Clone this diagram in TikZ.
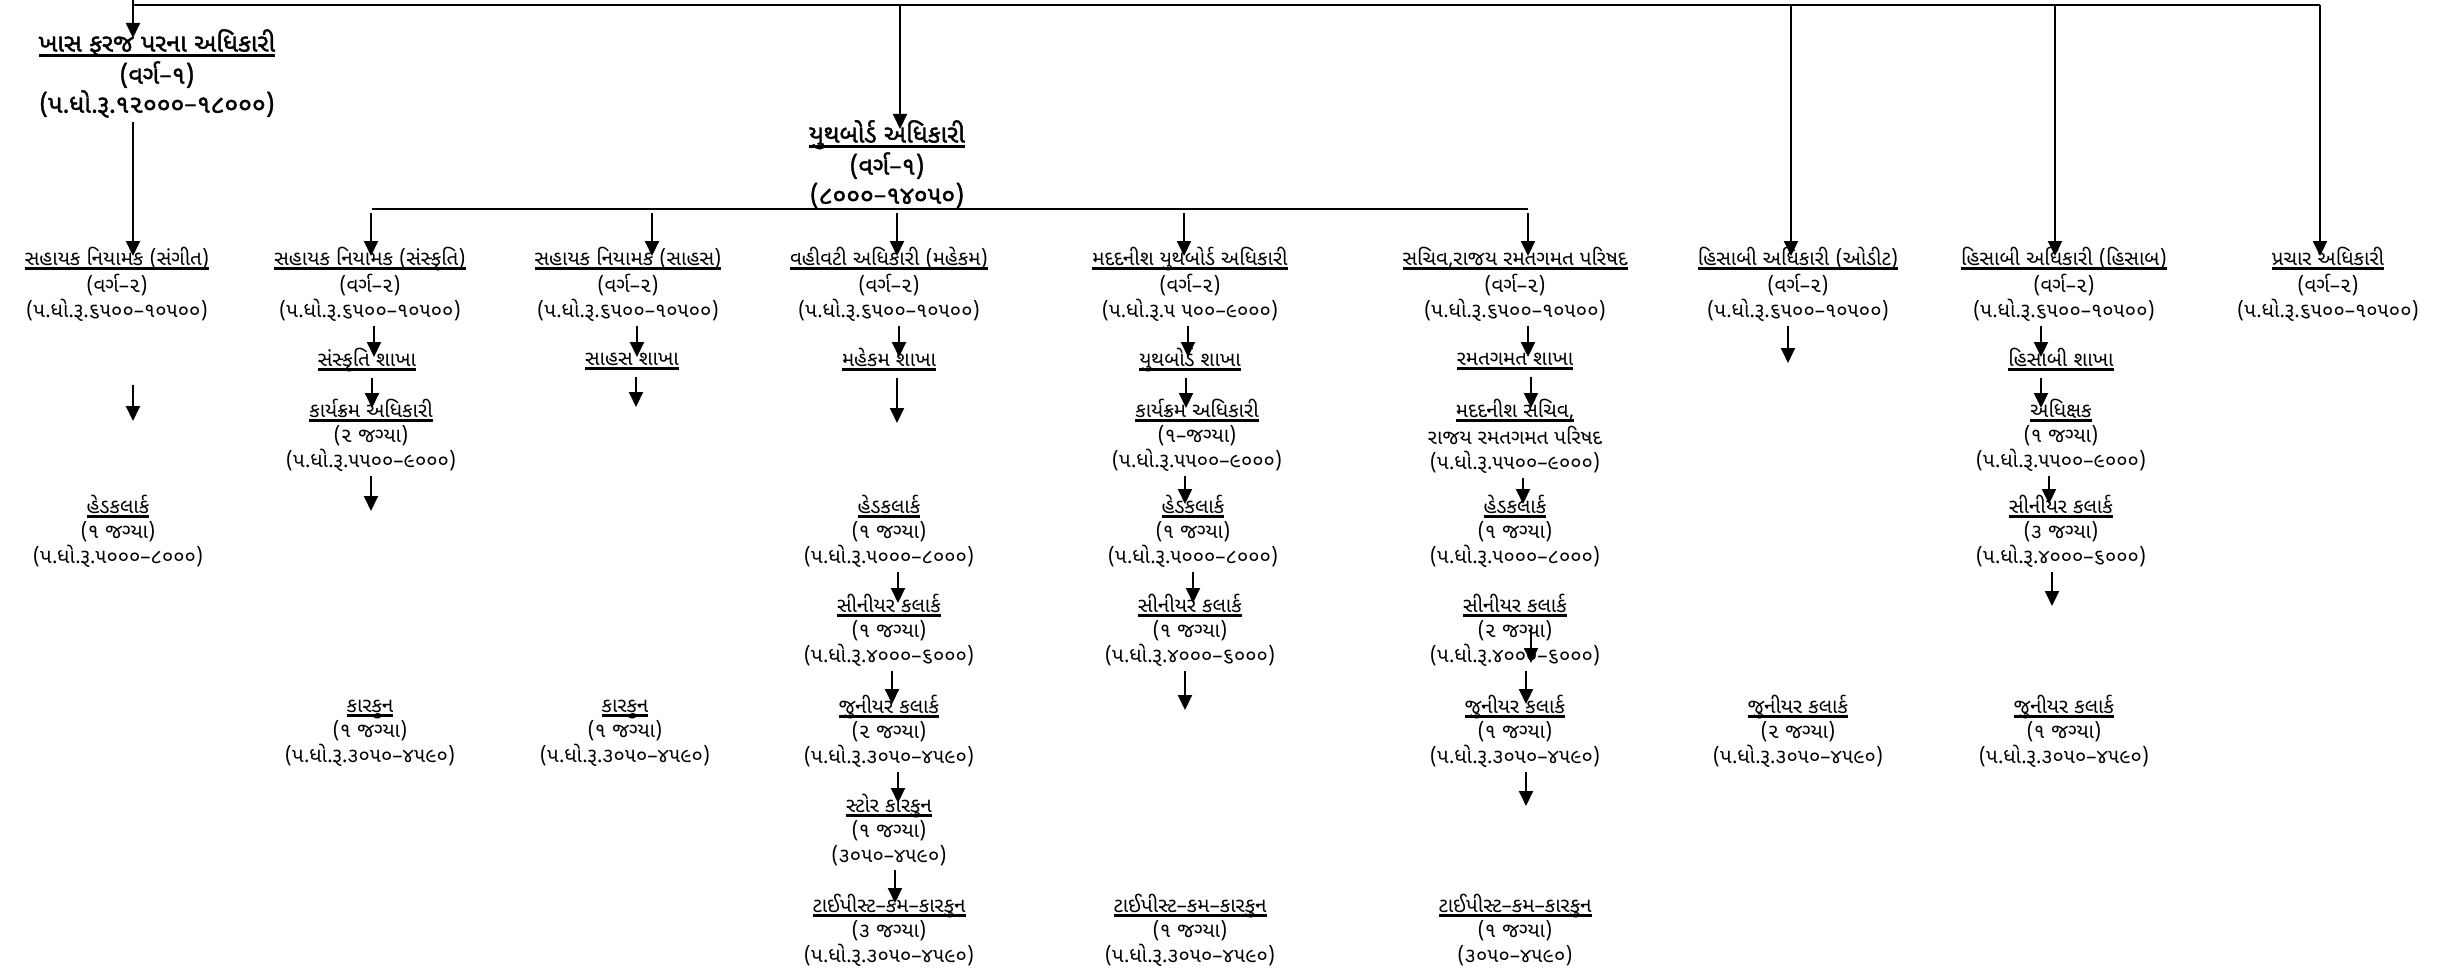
\documentclass[tikz,border=0pt]{standalone}
\usepackage{fontspec}
\usetikzlibrary{arrows.meta}
\newfontfamily\guj[Script=Gujarati]{Noto Sans Gujarati UI}
\newfontfamily\gujb[Script=Gujarati,FakeBold=1.5]{Noto Sans Gujarati UI}
\newfontfamily\dashfont{Noto Sans}
\newcommand{\ds}{{\dashfont –}}
\newsavebox\ttlbox
\newcommand{\ttl}[1]{\sbox\ttlbox{#1}\strut\rlap{\rule[-0.2em]{\wd\ttlbox}{0.12em}}\usebox\ttlbox}
\begin{document}
\begin{tikzpicture}[x=1pt, y=-1pt, line join=round,
    post/.style={font=\guj\fontsize{20.5}{25}\selectfont, align=center, inner sep=0pt, anchor=north},
    head/.style={font=\gujb\fontsize{25}{29}\selectfont, align=center, inner sep=0pt, anchor=north},
    arr/.style={line width=2pt, -{Triangle[width=14pt,length=15pt]}, shorten >=-9pt},
    gap/.style={shorten <=4pt},
    bar/.style={line width=2.8pt}]
\useasboundingbox (0,0) rectangle (2462,971);
% top level
\node[head] (khas) at (157,29) {\ttl{ખાસ ફરજ પરના અધિકારી}\\(વર્ગ\ds{}૧)\\(પ.ધો.રૂ.૧૨૦૦૦\ds{}૧૮૦૦૦)};
\node[head] (yuth) at (887,120) {\ttl{યુથબોર્ડ અધિકારી}\\(વર્ગ\ds{}૧)\\(૮૦૦૦\ds{}૧૪૦૫૦)};
% level 1
\node[post] (sangeet) at (117,247) {\ttl{સહાયક નિયામક (સંગીત)}\\(વર્ગ\ds{}૨)\\(પ.ધો.રૂ.૬૫૦૦\ds{}૧૦૫૦૦)};
\node[post] (sansk) at (370,247) {\ttl{સહાયક નિયામક (સંસ્કૃતિ)}\\(વર્ગ\ds{}૨)\\(પ.ધો.રૂ.૬૫૦૦\ds{}૧૦૫૦૦)};
\node[post] (sahas) at (628,247) {\ttl{સહાયક નિયામક (સાહસ)}\\(વર્ગ\ds{}૨)\\(પ.ધો.રૂ.૬૫૦૦\ds{}૧૦૫૦૦)};
\node[post] (vahiv) at (889,247) {\ttl{વહીવટી અધિકારી (મહેકમ)}\\(વર્ગ\ds{}૨)\\(પ.ધો.રૂ.૬૫૦૦\ds{}૧૦૫૦૦)};
\node[post] (madad) at (1190,247) {\ttl{મદદનીશ યુથબોર્ડ અધિકારી}\\(વર્ગ\ds{}૨)\\(પ.ધો.રૂ.૫ ૫૦૦\ds{}૯૦૦૦)};
\node[post] (sachiv) at (1515,247) {\ttl{સચિવ,રાજય રમતગમત પરિષદ}\\(વર્ગ\ds{}૨)\\(પ.ધો.રૂ.૬૫૦૦\ds{}૧૦૫૦૦)};
\node[post] (audit) at (1798,247) {\ttl{હિસાબી અધિકારી (ઓડીટ)}\\(વર્ગ\ds{}૨)\\(પ.ધો.રૂ.૬૫૦૦\ds{}૧૦૫૦૦)};
\node[post] (hisab) at (2064,247) {\ttl{હિસાબી અધિકારી (હિસાબ)}\\(વર્ગ\ds{}૨)\\(પ.ધો.રૂ.૬૫૦૦\ds{}૧૦૫૦૦)};
\node[post] (prachar) at (2328,247) {\ttl{પ્રચાર અધિકારી}\\(વર્ગ\ds{}૨)\\(પ.ધો.રૂ.૬૫૦૦\ds{}૧૦૫૦૦)};
% branches
\node[post] (sanskSh) at (367,348) {\ttl{સંસ્કૃતિ શાખા}};
\node[post] (sahasSh) at (632,348) {\ttl{સાહસ શાખા}};
\node[post] (mahekSh) at (889,348) {\ttl{મહેકમ શાખા}};
\node[post] (yuthSh) at (1190,348) {\ttl{યુથબોર્ડ શાખા}};
\node[post] (ramatSh) at (1515,348) {\ttl{રમતગમત શાખા}};
\node[post] (hisabSh) at (2061,348) {\ttl{હિસાબી શાખા}};
\node[post] (sanskKa) at (371,399) {\ttl{કાર્યક્રમ અધિકારી}\\(૨ જગ્યા)\\(પ.ધો.રૂ.૫૫૦૦\ds{}૯૦૦૦)};
\node[post] (yuthKa) at (1197,399) {\ttl{કાર્યક્રમ અધિકારી}\\(૧\ds{}જગ્યા)\\(પ.ધો.રૂ.૫૫૦૦\ds{}૯૦૦૦)};
\node[post] (ramatMs) at (1515,399) {\ttl{મદદનીશ સચિવ,}\\રાજય રમતગમત પરિષદ\\(પ.ધો.રૂ.૫૫૦૦\ds{}૯૦૦૦)};
\node[post] (hisabAd) at (2061,399) {\ttl{અધિક્ષક}\\(૧ જગ્યા)\\(પ.ધો.રૂ.૫૫૦૦\ds{}૯૦૦૦)};
% clerks
\node[post] (sangeetHc) at (118,495) {\ttl{હેડકલાર્ક}\\(૧ જગ્યા)\\(પ.ધો.રૂ.૫૦૦૦\ds{}૮૦૦૦)};
\node[post] (mahekHc) at (889,495) {\ttl{હેડકલાર્ક}\\(૧ જગ્યા)\\(પ.ધો.રૂ.૫૦૦૦\ds{}૮૦૦૦)};
\node[post] (yuthHc) at (1193,495) {\ttl{હેડકલાર્ક}\\(૧ જગ્યા)\\(પ.ધો.રૂ.૫૦૦૦\ds{}૮૦૦૦)};
\node[post] (ramatHc) at (1515,495) {\ttl{હેડકલાર્ક}\\(૧ જગ્યા)\\(પ.ધો.રૂ.૫૦૦૦\ds{}૮૦૦૦)};
\node[post] (hisabSc) at (2061,495) {\ttl{સીનીયર કલાર્ક}\\(૩ જગ્યા)\\(પ.ધો.રૂ.૪૦૦૦\ds{}૬૦૦૦)};
\node[post] (mahekSc) at (889,594) {\ttl{સીનીયર કલાર્ક}\\(૧ જગ્યા)\\(પ.ધો.રૂ.૪૦૦૦\ds{}૬૦૦૦)};
\node[post] (yuthSc) at (1190,594) {\ttl{સીનીયર કલાર્ક}\\(૧ જગ્યા)\\(પ.ધો.રૂ.૪૦૦૦\ds{}૬૦૦૦)};
\node[post] (ramatSc) at (1515,594) {\ttl{સીનીયર કલાર્ક}\\(૨ જગ્યા)\\(પ.ધો.રૂ.૪૦૦૦\ds{}૬૦૦૦)};
\node[post] (sanskKk) at (370,695) {\ttl{કારકુન}\\(૧ જગ્યા)\\(પ.ધો.રૂ.૩૦૫૦\ds{}૪૫૯૦)};
\node[post] (sahasKk) at (625,695) {\ttl{કારકુન}\\(૧ જગ્યા)\\(પ.ધો.રૂ.૩૦૫૦\ds{}૪૫૯૦)};
\node[post] (mahekJc) at (889,695) {\ttl{જુનીયર કલાર્ક}\\(૨ જગ્યા)\\(પ.ધો.રૂ.૩૦૫૦\ds{}૪૫૯૦)};
\node[post] (ramatJc) at (1515,695) {\ttl{જુનીયર કલાર્ક}\\(૧ જગ્યા)\\(પ.ધો.રૂ.૩૦૫૦\ds{}૪૫૯૦)};
\node[post] (auditJc) at (1798,695) {\ttl{જુનીયર કલાર્ક}\\(૨ જગ્યા)\\(પ.ધો.રૂ.૩૦૫૦\ds{}૪૫૯૦)};
\node[post] (hisabJc) at (2064,695) {\ttl{જુનીયર કલાર્ક}\\(૧ જગ્યા)\\(પ.ધો.રૂ.૩૦૫૦\ds{}૪૫૯૦)};
\node[post] (mahekSk) at (889,794) {\ttl{સ્ટોર કારકુન}\\(૧ જગ્યા)\\(૩૦૫૦\ds{}૪૫૯૦)};
\node[post] (mahekTy) at (889,894) {\ttl{ટાઈપીસ્ટ\ds{}કમ\ds{}કારકુન}\\(૩ જગ્યા)\\(પ.ધો.રૂ.૩૦૫૦\ds{}૪૫૯૦)};
\node[post] (yuthTy) at (1190,894) {\ttl{ટાઈપીસ્ટ\ds{}કમ\ds{}કારકુન}\\(૧ જગ્યા)\\(પ.ધો.રૂ.૩૦૫૦\ds{}૪૫૯૦)};
\node[post] (ramatTy) at (1515,894) {\ttl{ટાઈપીસ્ટ\ds{}કમ\ds{}કારકુન}\\(૧ જગ્યા)\\(૩૦૫૦\ds{}૪૫૯૦)};
% bars and free ends
\coordinate (topIn) at (133,0);
\coordinate (topL) at (133,5);
\coordinate (topR) at (2320,5);
\coordinate (bar2L) at (372,209);
\coordinate (bar2R) at (1528,209);
\coordinate (sangeetA) at (133,385);
\coordinate (sangeetB) at (133,421);
\coordinate (ramatA) at (1531,628);
\coordinate (ramatB) at (1531,663);
\coordinate (sanskEnd) at (371,511);
\coordinate (sahasEnd) at (636,407);
\coordinate (mahekEnd) at (897,423);
\coordinate (yuthEnd) at (1185,710);
\coordinate (ramatEnd) at (1526,806);
\coordinate (hisabEnd) at (2052,606);
\coordinate (auditEnd) at (1788,363);
\draw[bar] (topL) -- (topR);
\draw[bar] (bar2L) -- (bar2R);
\draw[arr] (topIn) -- (khas.north -| topIn);
\foreach \n/\d in {yuth/13,audit/-7,hisab/-9,prachar/-8}
  \draw[arr] ([xshift=\d pt]\n.north |- topL) -- ([xshift=\d pt]\n.north);
\foreach \n/\d in {sansk/1,sahas/24,vahiv/8,madad/-6,sachiv/13}
  \draw[arr,gap] ([xshift=\d pt]\n.north |- bar2L) -- ([xshift=\d pt]\n.north);
\foreach \a/\b/\d in {khas/sangeet/-24,sansk/sanskSh/4,sanskSh/sanskKa/5,sahas/sahasSh/9,vahiv/mahekSh/10,
    mahekHc/mahekSc/9,mahekSc/mahekJc/3,mahekJc/mahekSk/9,mahekSk/mahekTy/6,
    madad/yuthSh/-2,yuthSh/yuthKa/-4,yuthKa/yuthHc/-12,yuthHc/yuthSc/0,
    sachiv/ramatSh/13,ramatSh/ramatMs/16,ramatMs/ramatHc/8,ramatSc/ramatJc/11,
    hisab/hisabSh/-23,hisabSh/hisabAd/-20,hisabAd/hisabSc/-12}
  \draw[arr,gap] ([xshift=\d pt]\a.south) -- ([xshift=\d pt]\a.south |- \b.north);
\draw[arr,shorten >=0pt] (sangeetA) -- (sangeetB);
\draw[arr,shorten >=0pt] (ramatA) -- (ramatB);
\foreach \n/\e in {sanskKa/sanskEnd,sahasSh/sahasEnd,mahekSh/mahekEnd,yuthSc/yuthEnd,ramatJc/ramatEnd,hisabSc/hisabEnd,audit/auditEnd}
  \draw[arr,gap,shorten >=0pt] (\n.south -| \e) -- (\e);
\end{tikzpicture}
\end{document}
